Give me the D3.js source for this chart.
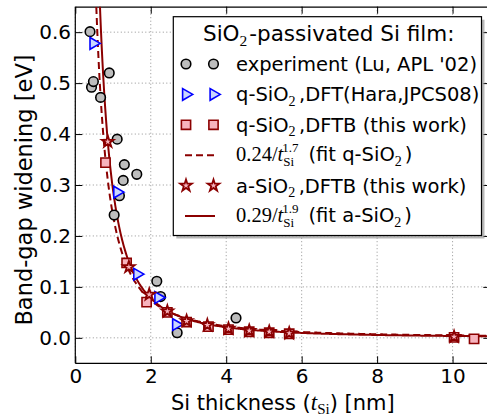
<!DOCTYPE html>
<html><head><meta charset="utf-8">
<script src="https://cdn.jsdelivr.net/npm/d3@7"></script>
<style>body{margin:0;background:#fff}</style>
</head><body>
<svg id="c" width="487" height="417"></svg>
<script>
// ---- data ----
const xTicks = [0, 2, 4, 6, 8, 10];
const yTicks = [0.0, 0.1, 0.2, 0.3, 0.4, 0.5, 0.6];

const expX = [0.39, 0.43, 0.48, 0.67, 0.90, 1.03, 1.11, 1.17, 1.27, 1.30, 1.63, 2.16, 2.26, 2.70, 4.26];
const expY = [0.601, 0.492, 0.503, 0.472, 0.520, 0.241, 0.390, 0.279, 0.309, 0.340, 0.321, 0.111, 0.081, 0.010, 0.039];

const dftX = [0.48, 1.11, 1.64, 2.20, 2.67];
const dftY = [0.578, 0.286, 0.125, 0.079, 0.026];

const qX = [0.80, 1.36, 1.89, 2.44, 2.95, 3.53, 4.06, 4.61, 5.14, 5.67, 10.04, 10.57];
const qY = [0.344, 0.147, 0.070, 0.050, 0.031, 0.022, 0.016, 0.012, 0.010, 0.008, 0.001, -0.002];

const aX = [0.86, 1.42, 1.96, 2.44, 2.95, 3.50, 4.06, 4.61, 5.14, 5.67, 10.04];
const aY = [0.385, 0.139, 0.085, 0.052, 0.033, 0.025, 0.018, 0.014, 0.012, 0.009, 0.002];

const fitQ = {a: 0.24, p: 1.7};
const fitA = {a: 0.29, p: 1.9};

// ---- chart ----
const svg = d3.select("#c");
const L = 75.3, R = 490.3, T = 6.7, B = 363.3;
const x = d3.scaleLinear().domain([0, 11]).range([L, R]);
const y = d3.scaleLinear().domain([-0.05, 0.65]).range([B, T]);
const SANS = "DejaVu Sans";
const SERIF = "Liberation Serif";
const DR = "#8b0000";

svg.append("defs").append("clipPath").attr("id", "clip")
  .append("rect").attr("x", L).attr("y", T).attr("width", R - L).attr("height", B - T);

// grid
const grid = svg.append("g").attr("stroke", "#777").attr("stroke-width", 0.8).attr("stroke-dasharray", "1,2.5");
grid.selectAll(".gx").data(xTicks).join("line")
  .attr("x1", d => x(d)).attr("x2", d => x(d)).attr("y1", T).attr("y2", B);
grid.selectAll(".gy").data(yTicks).join("line")
  .attr("x1", L).attr("x2", R).attr("y1", d => y(d)).attr("y2", d => y(d));

// axes (inward ticks)
const tl = 7;
const axB = svg.append("g").attr("transform", `translate(0,${B})`)
  .call(d3.axisBottom(x).tickValues(xTicks).tickSizeInner(-tl).tickSizeOuter(0).tickPadding(5.5).tickFormat(d3.format("d")));
const axT = svg.append("g").attr("transform", `translate(0,${T})`)
  .call(d3.axisTop(x).tickValues(xTicks).tickSizeInner(-tl).tickSizeOuter(0).tickFormat(""));
const axL = svg.append("g").attr("transform", `translate(${L},0)`)
  .call(d3.axisLeft(y).tickValues(yTicks).tickSizeInner(-tl).tickSizeOuter(0).tickPadding(4.3).tickFormat(d3.format(".1f")));
const axR = svg.append("g").attr("transform", `translate(${R},0)`)
  .call(d3.axisRight(y).tickValues(yTicks).tickSizeInner(-tl).tickSizeOuter(0).tickFormat(""));
[axB, axT, axL, axR].forEach(a => {
  a.selectAll(".domain").attr("stroke", "#000").attr("stroke-width", 1.2);
  a.selectAll(".tick line").attr("stroke", "#000").attr("stroke-width", 1);
  a.selectAll("text").attr("font-family", SANS).attr("font-size", 20).attr("fill", "#000");
});
axB.select(".domain").attr("d", `M${L},0H${R}`);
axL.select(".domain").attr("d", `M0,${T}V${B}`);

// axis labels
const xl = svg.append("text").attr("x", (L + R) / 2).attr("y", 410).attr("text-anchor", "middle")
  .attr("font-family", SANS).attr("font-size", 21);
xl.append("tspan").text("Si thickness (");
xl.append("tspan").attr("font-family", SERIF).attr("font-style", "italic").attr("font-size", 23).text("t");
xl.append("tspan").attr("font-family", SERIF).attr("font-size", 15).attr("dy", 4).text("Si");
xl.append("tspan").attr("dy", -4).text(") [nm]");

svg.append("text").attr("transform", `translate(32,190) rotate(-90)`).attr("text-anchor", "middle")
  .attr("font-family", SANS).attr("font-size", 22.5).text("Band-gap widening [eV]");

// data layer
const plot = svg.append("g").attr("clip-path", "url(#clip)");

function fitLine(f) {
  const ts = d3.range(0.3, 11.01, 0.02);
  return d3.line().x(t => x(t)).y(t => y(f.a / Math.pow(t, f.p)))(ts);
}
plot.append("path").attr("d", fitLine(fitQ)).attr("fill", "none").attr("stroke", DR)
  .attr("stroke-width", 2).attr("stroke-dasharray", "7,4");
plot.append("path").attr("d", fitLine(fitA)).attr("fill", "none").attr("stroke", DR)
  .attr("stroke-width", 2);

const circ = d3.symbol().type(d3.symbolCircle).size(72)();
const tri = d3.symbol().type(d3.symbolTriangle).size(60)();
const sq = d3.symbol().type(d3.symbolSquare).size(85)();
const star = d3.symbol().type(d3.symbolStar).size(42)();

const styles = {
  exp: {d: circ, rot: 0, fill: "#bdbdbd", stroke: "#000", sw: 1.6},
  dft: {d: tri, rot: 90, fill: "#c9d6ff", stroke: "#0000ff", sw: 1.6},
  q: {d: sq, rot: 0, fill: "#f7b3bd", stroke: DR, sw: 1.6},
  a: {d: star, rot: 0, fill: "#f7b3bd", stroke: DR, sw: 1.8}
};
function drawPts(xs, ys, st) {
  plot.append("g").selectAll("path").data(xs.map((v, i) => [v, ys[i]])).join("path")
    .attr("d", st.d).attr("transform", d => `translate(${x(d[0])},${y(d[1])}) rotate(${st.rot})`)
    .attr("fill", st.fill).attr("stroke", st.stroke).attr("stroke-width", st.sw);
}
drawPts(expX, expY, styles.exp);
drawPts(dftX, dftY, styles.dft);
drawPts(qX, qY, styles.q);
drawPts(aX, aY, styles.a);

// legend
const lg = svg.append("g");
const bx = 173.3, by = 16.7, bw = 308.2, bh = 218.8;
lg.append("rect").attr("x", bx + 3).attr("y", by + 3).attr("width", bw).attr("height", bh).attr("fill", "#888").attr("opacity", 0.6);
lg.append("rect").attr("x", bx).attr("y", by).attr("width", bw).attr("height", bh).attr("fill", "#fff").attr("stroke", "#000").attr("stroke-width", 1.2);

const tt = lg.append("text").attr("x", 203).attr("y", 41).attr("font-family", SANS).attr("font-size", 21.5);
tt.append("tspan").text("SiO");
tt.append("tspan").attr("font-family", SERIF).attr("font-size", 21.5 * 0.72).attr("dy", 21.5 * 0.24).text("2");
tt.append("tspan").attr("dy", -21.5 * 0.24).attr("dx", 2).text("-passivated Si film:");

const rows = [
  {type: "exp", parts: [["experiment (Lu, APL '02)"]]},
  {type: "dft", parts: [["q-SiO"], ["2", "sub"], [",DFT(Hara,JPCS08)"]]},
  {type: "q", parts: [["q-SiO"], ["2", "sub"], [",DFTB (this work)"]]},
  {type: "dash", fit: fitQ},
  {type: "a", parts: [["a-SiO"], ["2", "sub"], [",DFTB (this work)"]]},
  {type: "solid", fit: fitA}
];
const fsL = 19.5;
rows.forEach((r, i) => {
  const cy = 64 + i * 30.4;
  if (r.type === "dash" || r.type === "solid") {
    lg.append("line").attr("x1", 185).attr("x2", 215).attr("y1", cy).attr("y2", cy)
      .attr("stroke", DR).attr("stroke-width", 2).attr("stroke-dasharray", r.type === "dash" ? "7,4" : null);
    const t = lg.append("text").attr("x", 236).attr("y", cy + 6).attr("font-family", SERIF).attr("font-size", 20.5);
    t.append("tspan").text(r.fit.a.toFixed(2) + "/");
    t.append("tspan").attr("font-style", "italic").text("t");
    t.append("tspan").attr("font-size", 13).attr("dy", 5).text("Si");
    t.append("tspan").attr("font-size", 13).attr("dx", -12).attr("dy", -14).text(r.fit.p.toFixed(1));
    t.append("tspan").attr("dy", 9).attr("font-family", SANS).attr("font-size", fsL).text("\u2009 (fit " + (r.type === "dash" ? "q" : "a") + "-SiO");
    t.append("tspan").attr("font-size", fsL * 0.72).attr("dy", fsL * 0.24).text("2");
    t.append("tspan").attr("font-family", SANS).attr("font-size", fsL).attr("dx", 3).attr("dy", -fsL * 0.24).text(")");
  } else {
    const st = styles[r.type];
    [186, 213.5].forEach(mx => {
      lg.append("path").attr("d", st.d).attr("transform", `translate(${mx},${cy}) rotate(${st.rot})`)
        .attr("fill", st.fill).attr("stroke", st.stroke).attr("stroke-width", st.sw);
    });
    const t = lg.append("text").attr("x", 236).attr("y", cy + 7).attr("font-family", SANS).attr("font-size", fsL);
    let afterSub = false;
    r.parts.forEach(p => {
      if (p[1] === "sub") {
        t.append("tspan").attr("font-family", SERIF).attr("font-size", fsL * 0.72).attr("dy", fsL * 0.24).text(p[0]);
        afterSub = true;
      } else {
        const s = t.append("tspan").text(p[0]);
        if (afterSub) { s.attr("dy", -fsL * 0.24).attr("dx", 3.5); afterSub = false; }
      }
    });
  }
});
</script>
</body></html>
